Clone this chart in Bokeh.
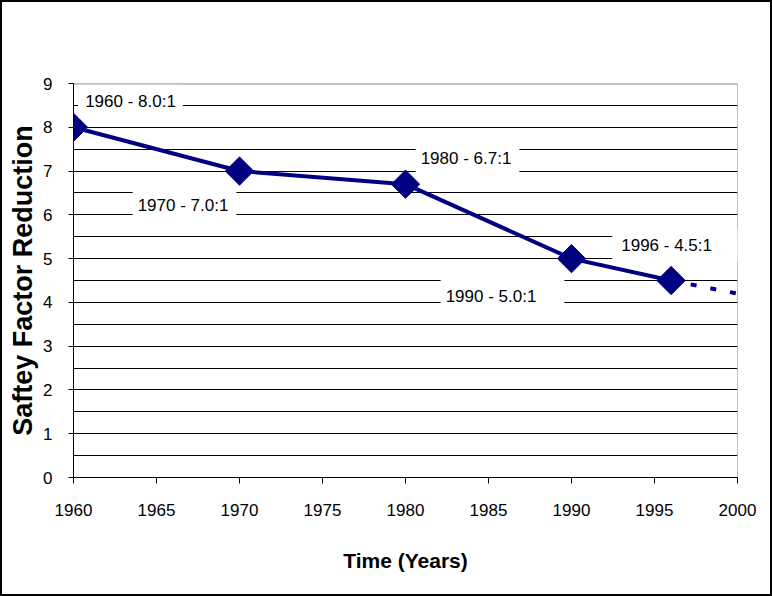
import math

from bokeh.embed import file_html
from bokeh.models import Label, Range1d, SingleIntervalTicker, Span
from bokeh.plotting import figure
from bokeh.resources import INLINE

# Safety factor over time
years = [1960, 1970, 1980, 1990, 1996]
ratios = [8.0, 7.0, 6.7, 5.0, 4.5]

# projected continuation after the last measured year
trend_years = [1996, 2000]
trend_ratios = [4.5, 4.2]

x_title = "Time (Years)"
y_title = "Saftey Factor Reduction"

NAVY = "#000080"
TEXT_FONT = "Liberation Sans"
X_MIN, X_MAX = 1960, 2000
Y_MIN, Y_MAX = 0, 9

p = figure(
    width=768, height=592,
    x_range=Range1d(X_MIN, X_MAX), y_range=Range1d(Y_MIN, Y_MAX),
    output_backend="svg", toolbar_location=None,
    min_border_left=71, min_border_right=33,
    min_border_top=81, min_border_bottom=117,
)
# frame around the whole chart
p.styles = {"margin": "2px", "outline": "2px solid black"}

p.background_fill_color = "white"
p.border_fill_color = "white"
p.outline_line_color = None

# horizontal rules every half unit, no vertical rules
p.xgrid.visible = False
p.ygrid.ticker = SingleIntervalTicker(interval=0.5, num_minor_ticks=0)
p.ygrid.grid_line_color = "black"
p.ygrid.grid_line_width = 1

# grey top and right edges of the plot area (kept beneath the callouts)
p.add_layout(Span(location=Y_MAX, dimension="width", line_color="#808080",
                  line_width=2, level="underlay"))
p.add_layout(Span(location=X_MAX, dimension="height", line_color="#808080",
                  line_width=1, level="underlay"))

p.xaxis.ticker = SingleIntervalTicker(interval=5, num_minor_ticks=0)
p.yaxis.ticker = SingleIntervalTicker(interval=1, num_minor_ticks=0)

for ax in (p.xaxis[0], p.yaxis[0]):
    ax.axis_line_color = "black"
    ax.axis_line_width = 1
    ax.major_tick_line_color = "black"
    ax.major_tick_in = 0
    ax.minor_tick_line_color = None
    ax.major_label_text_font = TEXT_FONT
    ax.major_label_text_font_size = "17px"
    ax.major_label_text_color = "black"
    ax.axis_label_text_font = "Liberation Sans"
    ax.axis_label_text_font_style = "bold"
    ax.axis_label_text_color = "black"

p.xaxis.major_tick_out = 6
p.xaxis.major_label_standoff = 20
p.xaxis.axis_label = x_title
p.xaxis.axis_label_text_font_size = "21px"
p.xaxis.axis_label_standoff = 30

p.yaxis.major_tick_out = 5
p.yaxis.major_label_standoff = 16
p.yaxis.axis_label = y_title
p.yaxis.axis_label_text_font_size = "27px"
p.yaxis.axis_label_standoff = 2

# measured series and dotted projection
p.line(years, ratios, line_color=NAVY, line_width=4)
p.line(trend_years, trend_ratios, line_color=NAVY, line_width=4, line_dash="6 14")
p.scatter(years, ratios, marker="square", angle=math.pi / 4, size=20,
          fill_color=NAVY, line_color=NAVY)

# value callouts, placed beside each point in screen pixels
label_offsets = [(57, 26), (-55, -34), (62, 26), (-69, -38), (6, 35)]
label_padding = [
    dict(left=7, right=7, top=7, bottom=7),
    dict(left=5, right=8, top=7, bottom=7),
    dict(left=5, right=8, top=7, bottom=7),
    dict(left=5, right=28, top=7, bottom=7),
    dict(left=9, right=30, top=7, bottom=7),
]
for yr, r, (dx, dy), pad in zip(years, ratios, label_offsets, label_padding):
    p.add_layout(Label(
        x=yr, y=r, x_offset=dx, y_offset=dy,
        text=f"{yr} - {r:.1f}:1",
        text_font=TEXT_FONT, text_font_size="17px", text_color="black",
        text_align="center", text_baseline="middle",
        background_fill_color="white", padding=pad,
    ))

open("out.html", "w").write(file_html(p, INLINE))
